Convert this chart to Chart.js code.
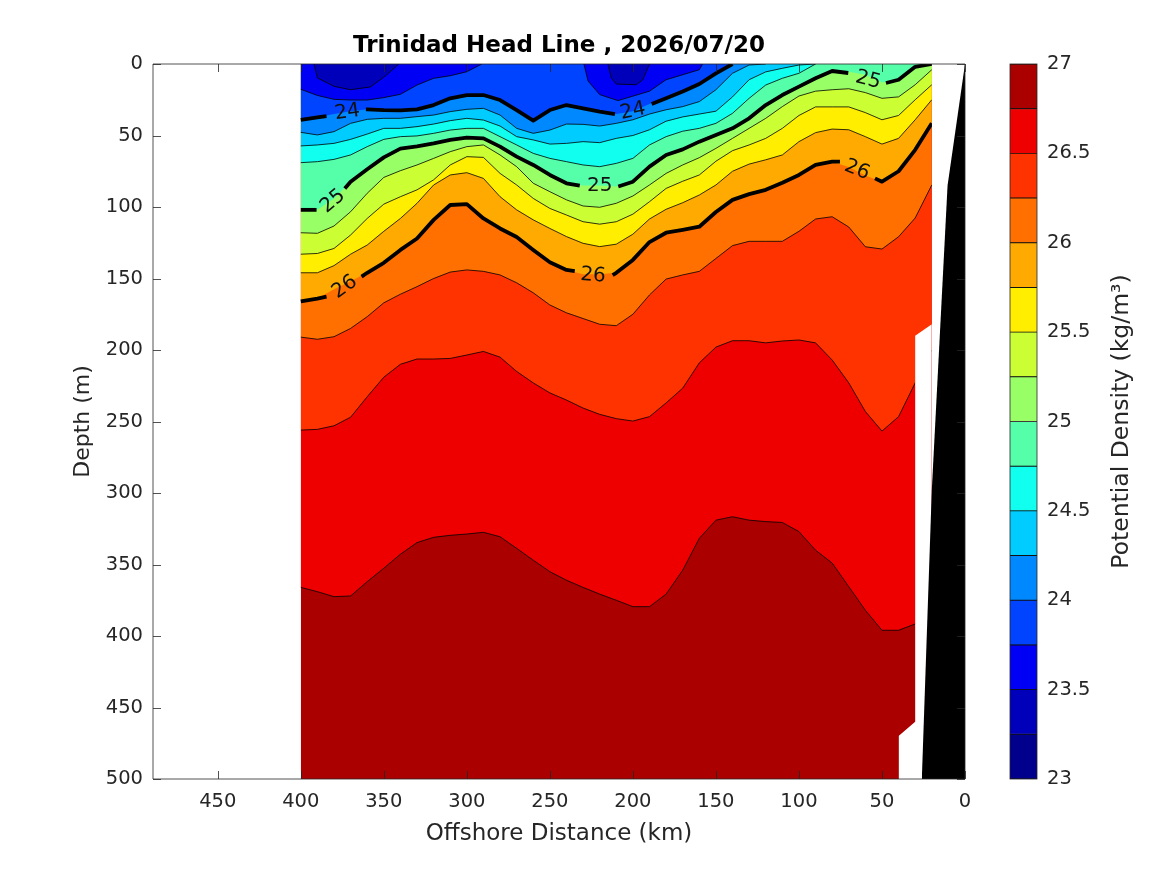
<!DOCTYPE html>
<html>
<head>
<meta charset="utf-8">
<title>Trinidad Head Line</title>
<script src="https://cdn.jsdelivr.net/npm/chart.js@4"></script>
<style>
  html, body { margin: 0; padding: 0; background: #fff; }
  #section { position: absolute; left: 0; top: 0; }
  #bar { position: absolute; left: 1000px; top: 0; }
</style>
</head>
<body>
<canvas id="section" width="1000" height="875"></canvas>
<canvas id="bar" width="167" height="875"></canvas>
<script>
const dist = [400,390,380,370,360,350,340,330,320,310,300,290,280,270,260,250,240,230,220,210,200,190,180,170,160,150,140,130,120,110,100,90,80,70,60,50,40,30,20];

// isopycnal depths (m) on the dist grid, 0 means it has hit the surface
const c2675 = [366,369,372.5,372,362,352.6,342.8,334.7,331,329.6,328.7,327.5,330.6,338.7,347,355,361,366,370.7,375,379.5,379.5,370.7,354,331.7,319,316.6,319,320,320.6,327,340,349,365.5,382,396,396,391.6,385];
const c2650 = [256,255.5,253,247,232.7,219,210,206.3,206.3,205.9,203.5,201,205,215,223,230,235,240.6,245,248,249.7,246.6,237,226.7,209,198,193.5,193.5,195,193.7,193,195,207,223,243,256.7,246.6,223,200];
const c2625 = [191,192.5,190.7,184.9,176.7,167,161,155.7,150,145.5,144,145,147.5,153,160,168.5,174,178,182,183,175,161.5,150.4,147.5,145,136,127,124,124,124,117,108.4,106.8,114,127.8,129.4,120.8,107.7,84.6];
const c2600 = [166,164,157.6,152,146,139,130,122,109,98.6,98,108,115,121,130,138.7,144,147,147,146,137,124.5,118,116,113.8,103.5,95,91,88,83,77.6,70.6,68.3,72,78,82.3,75,60,41.5];
const c2575 = [146,146,141,133,126.6,117,108,97.4,84.6,77.6,76,80,92.8,102,109,115,120.7,125.4,127.7,126,119,108.4,101.6,97,91.6,84.6,75,70,67,63.6,54.3,48,45.5,46,50.8,56,52,39,25];
const c2550 = [133,132.5,129,119.6,108,98,92.8,88,81,70.6,64.8,65.3,76.5,84.6,94,101,105.6,110.3,112,110.3,105,96.3,87,82,77.6,68,60.6,56.6,52,45,36,30,30,30,34,39,36,25,14.5];
const c2525 = [118,118.4,113.3,103.3,90.4,79.3,74.6,70.6,66,61.3,57.8,56.6,63.6,71.8,83.4,89.3,95,99.3,100.2,97.4,92.3,84.6,76.5,70.6,65.5,59,52,45,38,29.8,22.4,19,18,17.3,20,24,23,14.5,4];
const c2500 = [102,102,94,82.3,73.6,65.3,59.2,57.6,55.5,53.1,51.5,52,57.8,64.8,70.6,77.6,83.4,85,85,85.7,82.3,71.8,63.6,59.7,54.3,49.6,45,38,28.7,21.7,15.8,10,4.9,5.5,7.5,13,11,2,0];
const c2475 = [69,68.3,66.7,63.6,57.8,52.7,50.8,50.3,48.5,46.2,45,45,50.8,56.6,62.5,66,68.3,70.6,71.8,69.5,66,56.6,50.8,47,45,41.5,34.5,24,14.7,10,6.5,0,0,0,0,0,0,0,0];
const c2450 = [57.3,56.6,55.5,52.7,49,45,45,43.8,42,39.6,38,39.2,43.4,50.8,53.1,56,55.5,54.3,55,52,50,46,40,37,35,33,23,11,5.5,3,0.7,0,0,0,0,0,0,0,0];
const c2425 = [47.8,49.6,47.3,41.5,38.7,38,38,36.8,35.7,33.3,31.7,31,35.7,45,48.5,46.2,42,42.2,43.4,41.5,39,35,32,29.8,26.3,18,6.5,0.7,0,0,0,0,0,0,0,0,0,0,0];
const c2400 = [39,37.3,35,33,31.7,32.2,32.4,31.7,28.7,24,21.7,21.7,25.2,32.2,39.6,32.2,28.7,31,33.3,35,33,28,24,19.3,14,6.5,0,0,0,0,0,0,0,0,0,0,0,0,0];

// closed patches at the surface
const patch2375a = [[400,17.7],[390,22],[380,24.7],[370,25.2],[360,25.2],[350,23.5],[340,21.2],[330,14.7],[320,10],[310,8.2],[300,5.4],[291,0]];
const patch2375b = [[229.5,0],[227,11.9],[220,21.4],[209,25.6],[190,19],[180,11],[160,4],[158,0]];
const patch2350a = [[392,0],[390,9.8],[380,15.6],[370,18],[358,16],[349,8.3],[341,0]];
const patch2350b = [[215,0],[213,9.8],[210,14],[198,14.5],[194,11],[190,0]];

// no data and bottom, each one runs one way in distance and fills down to 500 m
const noDataCoast = [[0,0],[20,0]];
const noDataEdge = [[20,182],[30,190],[30,460],[40,470],[40,500]];
const land = [[0,0],[10.5,85],[20,298],[26,500]];

// where the heavy lines stop for their labels: distStart, depthStart, distEnd, depthEnd
const gaps2400 = [[384.5,36.4,360.8,31.7],[210.8,35,188.7,28]];
const gaps2500 = [[390.5,102,373.5,87],[232,85,208.8,85.7],[70.3,6.3,47.6,13.3]];
const gaps2600 = [[384.5,162.7,363.4,148.7],[235,144.8,212.2,147.6],[75.3,68.3,54.2,80]];

const contourLabels = [
  ["24", 372, 33.8, -8], ["24", 200, 33, -12],
  ["25", 380.7, 96, -40], ["25", 220, 85, 0], ["25", 58.4, 11.2, 15],
  ["26", 373.5, 156, -35], ["26", 224, 148, 5], ["26", 65, 74, 22]
];

const xTickValues = [0,50,100,150,200,250,300,350,400,450];
const yTickValues = [0,50,100,150,200,250,300,350,400,450,500];
const barTickValues = [23,23.5,24,24.5,25,25.5,26,26.5,27];

// one colour per 0.25 band, lightest water first
const bandEdges = [23,23.25,23.5,23.75,24,24.25,24.5,24.75,25,25.25,25.5,25.75,26,26.25,26.5,26.75,27];
const bandColors = ["#00008c","#0000bb","#0000f5","#0044ff","#0088ff","#00ccff","#11ffee","#55ffaa","#99ff66","#ccff33","#ffee00","#ffaa00","#ff7000","#ff3300","#ee0000","#aa0000"];

const axisColor = "#262626";
const fontName = "'DejaVu Sans'";
const thinLine = 0.8;

function gridPoints(depths) {
  return dist.map((d, i) => ({ x: d, y: depths[i] }));
}

function pairPoints(pairs) {
  return pairs.map(p => ({ x: p[0], y: p[1] }));
}

// heavy line points with breaks where the labels sit
function heavyPoints(depths, gaps) {
  const points = [];
  let g = 0;
  for (let i = 0; i < dist.length; i++) {
    while (g < gaps.length && dist[i] <= gaps[g][0]) {
      points.push({ x: gaps[g][0], y: gaps[g][1] });
      points.push({ x: gaps[g][0], y: null });
      points.push({ x: gaps[g][2], y: gaps[g][3] });
      g++;
    }
    const inGap = g > 0 && dist[i] > gaps[g - 1][2];
    if (!inGap) points.push({ x: dist[i], y: depths[i] });
  }
  return points;
}

const hideAtSurface = {
  borderColor: ctx => (ctx.p0.parsed.y === 0 && ctx.p1.parsed.y === 0 ? "transparent" : undefined)
};

function fillLayer(points, color, lineWidth, fillTo) {
  return {
    data: points,
    borderColor: "#000",
    borderWidth: lineWidth,
    backgroundColor: color,
    fill: { value: fillTo },
    pointRadius: 0,
    tension: 0,
    segment: hideAtSurface
  };
}

function heavyLine(points) {
  return {
    data: points,
    borderColor: "#000",
    borderWidth: 3.8,
    fill: false,
    pointRadius: 0,
    tension: 0,
    borderJoinStyle: "round",
    segment: hideAtSurface
  };
}

// first dataset ends up on top, so land goes first and the deep water last
const datasets = [
  fillLayer(pairPoints(land), "#000", 0, 500),
  fillLayer(pairPoints(noDataCoast), "#fff", 0, 500),
  fillLayer(pairPoints(noDataEdge), "#fff", 0, 500),
  heavyLine(heavyPoints(c2400, gaps2400)),
  heavyLine(heavyPoints(c2500, gaps2500)),
  heavyLine(heavyPoints(c2600, gaps2600)),
  fillLayer(pairPoints(patch2350a), bandColors[1], thinLine, 0),
  fillLayer(pairPoints(patch2350b), bandColors[1], thinLine, 0),
  fillLayer(pairPoints(patch2375a), bandColors[2], thinLine, 0),
  fillLayer(pairPoints(patch2375b), bandColors[2], thinLine, 0),
  fillLayer(gridPoints(c2400), bandColors[3], 0, 0),
  fillLayer(gridPoints(c2425), bandColors[4], thinLine, 0),
  fillLayer(gridPoints(c2450), bandColors[5], thinLine, 0),
  fillLayer(gridPoints(c2475), bandColors[6], thinLine, 0),
  fillLayer(gridPoints(c2500), bandColors[7], 0, 0),
  fillLayer(gridPoints(c2525), bandColors[8], thinLine, 0),
  fillLayer(gridPoints(c2550), bandColors[9], thinLine, 0),
  fillLayer(gridPoints(c2575), bandColors[10], thinLine, 0),
  fillLayer(gridPoints(c2600), bandColors[11], 0, 0),
  fillLayer(gridPoints(c2625), bandColors[12], thinLine, 0),
  fillLayer(gridPoints(c2650), bandColors[13], thinLine, 0),
  fillLayer(gridPoints(c2675), bandColors[14], thinLine, 0),
  fillLayer(dist.map(d => ({ x: d, y: 500 })), bandColors[15], 0, 0)
];

// contour labels, inward ticks and the box, all placed through the scales
const sectionExtras = {
  id: "sectionExtras",
  afterDatasetsDraw(chart) {
    const { ctx, chartArea: a, scales: { x, y } } = chart;
    ctx.save();

    ctx.fillStyle = "#111";
    ctx.font = "20px " + fontName;
    ctx.textAlign = "center";
    ctx.textBaseline = "middle";
    contourLabels.forEach(l => {
      ctx.save();
      ctx.translate(x.getPixelForValue(l[1]), y.getPixelForValue(l[2]));
      ctx.rotate(l[3] * Math.PI / 180);
      ctx.fillText(l[0], 0, 0);
      ctx.restore();
    });

    ctx.strokeStyle = axisColor;
    ctx.lineWidth = 0.8;
    ctx.beginPath();
    xTickValues.forEach(v => {
      const px = Math.round(x.getPixelForValue(v)) + 0.5;
      ctx.moveTo(px, a.bottom); ctx.lineTo(px, a.bottom - 8);
      ctx.moveTo(px, a.top); ctx.lineTo(px, a.top + 8);
    });
    yTickValues.forEach(v => {
      const py = Math.round(y.getPixelForValue(v)) + 0.5;
      ctx.moveTo(a.left, py); ctx.lineTo(a.left + 8, py);
      ctx.moveTo(a.right, py); ctx.lineTo(a.right - 8, py);
    });
    ctx.rect(a.left, a.top, a.right - a.left, a.bottom - a.top);
    ctx.stroke();
    ctx.restore();
  }
};

new Chart(document.getElementById("section"), {
  type: "line",
  data: { datasets: datasets },
  plugins: [sectionExtras],
  options: {
    responsive: false,
    animation: false,
    devicePixelRatio: 1,
    layout: { padding: { right: 35 } },
    plugins: {
      legend: { display: false },
      tooltip: { enabled: false },
      title: {
        display: true,
        text: "Trinidad Head Line , 2026/07/20",
        color: "#000",
        fullSize: false,
        font: { family: fontName, size: 23, weight: "bold" },
        padding: { top: 32, bottom: 4.4 }
      }
    },
    scales: {
      x: {
        type: "linear",
        reverse: true,
        min: 0,
        max: 489,
        grid: { display: false, drawTicks: false },
        border: { display: false },
        afterBuildTicks: s => { s.ticks = xTickValues.map(v => ({ value: v })); },
        afterFit: s => { s.height = 96; },
        ticks: { color: axisColor, maxRotation: 0, autoSkip: false, padding: 11, font: { family: fontName, size: 19.5 } },
        title: {
          display: true,
          text: "Offshore Distance (km)",
          color: axisColor,
          font: { family: fontName, size: 23 },
          padding: { top: 4, bottom: 27 }
        }
      },
      y: {
        type: "linear",
        reverse: true,
        min: 0,
        max: 500,
        grid: { display: false, drawTicks: false },
        border: { display: false },
        afterBuildTicks: s => { s.ticks = yTickValues.map(v => ({ value: v })); },
        afterFit: s => { s.width = 153; },
        ticks: { color: axisColor, autoSkip: false, padding: 10, font: { family: fontName, size: 19.5 } },
        title: {
          display: true,
          text: "Depth (m)",
          color: axisColor,
          font: { family: fontName, size: 22 },
          padding: { top: 70, bottom: 0 }
        }
      }
    }
  }
});

// colour bar title reads upwards, which a right hand axis title will not do
const barExtras = {
  id: "barExtras",
  afterDraw(chart) {
    const { ctx, chartArea: a } = chart;
    ctx.save();
    ctx.strokeStyle = axisColor;
    ctx.lineWidth = 0.8;
    ctx.strokeRect(a.left, a.top, a.right - a.left, a.bottom - a.top);
    ctx.translate(122, (a.top + a.bottom) / 2);
    ctx.rotate(-Math.PI / 2);
    ctx.fillStyle = axisColor;
    ctx.font = "23.5px " + fontName;
    ctx.textAlign = "center";
    ctx.textBaseline = "middle";
    ctx.fillText("Potential Density (kg/m³)", 0, 0);
    ctx.restore();
  }
};

new Chart(document.getElementById("bar"), {
  type: "bar",
  data: {
    labels: ["density"],
    datasets: bandColors.map((c, i) => ({
      data: [[bandEdges[i], bandEdges[i + 1]]],
      backgroundColor: c,
      borderColor: "#111",
      borderWidth: { top: 0.8, bottom: 0.8, left: 0, right: 0 },
      borderSkipped: false,
      barPercentage: 1,
      categoryPercentage: 1,
      grouped: false
    }))
  },
  plugins: [barExtras],
  options: {
    responsive: false,
    animation: false,
    devicePixelRatio: 1,
    layout: { padding: { left: 10, top: 64, bottom: 96 } },
    plugins: { legend: { display: false }, tooltip: { enabled: false } },
    scales: {
      x: { display: false },
      y: {
        position: "right",
        min: 23,
        max: 27,
        grid: { display: false, drawTicks: false },
        border: { display: false },
        afterBuildTicks: s => { s.ticks = barTickValues.map(v => ({ value: v })); },
        afterFit: s => { s.width = 130; },
        ticks: { color: axisColor, padding: 10, autoSkip: false, callback: v => String(v), font: { family: fontName, size: 19.5 } }
      }
    }
  }
});
</script>
</body>
</html>
